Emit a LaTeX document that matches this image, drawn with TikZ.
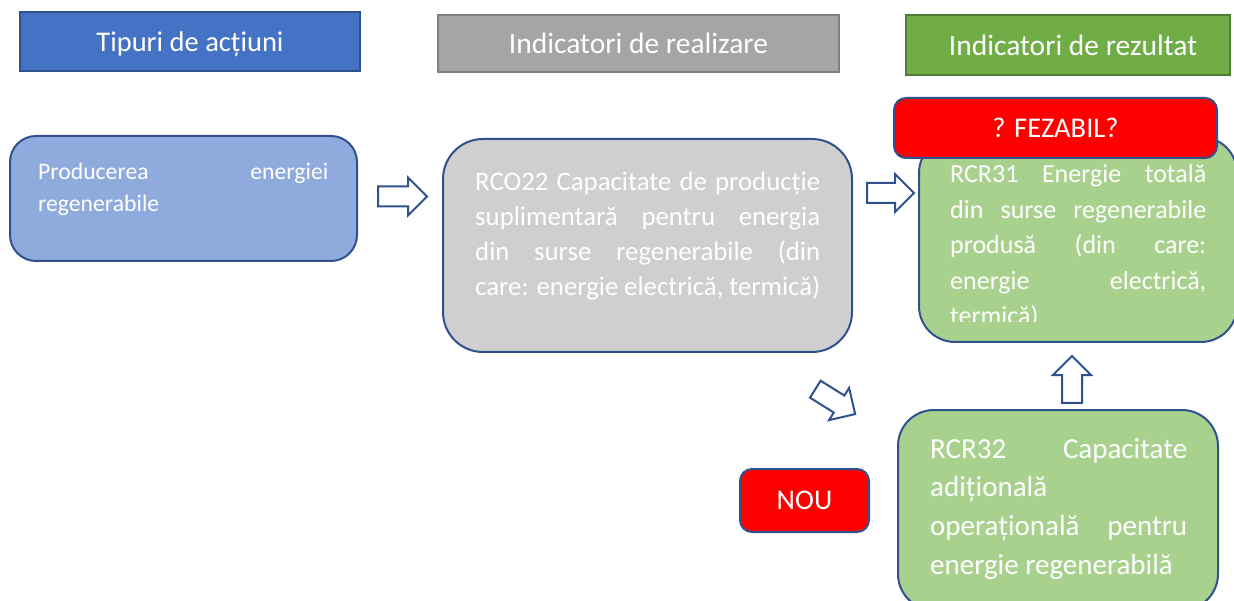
\documentclass[tikz,border=0pt]{standalone}
\usepackage{fontspec}
\setmainfont{Carlito}
\usetikzlibrary{shapes.arrows}

\definecolor{edgeblue}{HTML}{2F528F}
\definecolor{hdrblue}{HTML}{4472C4}
\definecolor{hdrgray}{HTML}{A5A5A5}
\definecolor{edgegray}{HTML}{7F7F7F}
\definecolor{hdrgreen}{HTML}{70AD47}
\definecolor{edgegreen}{HTML}{507E32}
\definecolor{actblue}{HTML}{8FAADC}
\definecolor{outgray}{HTML}{D0CECE}
\definecolor{resgreen}{HTML}{A9D18E}
\definecolor{alertred}{HTML}{FF0000}

\hbadness=10000
\tolerance=10000

\begin{document}
\begin{tikzpicture}[x=1pt,y=-1pt,
    hdr/.style={draw, line width=2.5pt, inner sep=0pt, text=white,
        font=\fontsize{29.5}{34}\selectfont},
    ibox/.style={draw=edgeblue, line width=2pt, rounded corners=#1},
    ibox/.default=30pt,
    boxtext/.style={inner sep=0pt, anchor=north west, align=justify, text=white},
    redbox/.style={draw=edgeblue, line width=2pt, fill=alertred, rounded corners=12pt,
        text=white, font=\fontsize{28.5}{34}\selectfont},
    blockarr/.style={single arrow, draw=edgeblue, line width=2pt, fill=white,
        inner xsep=0pt, inner ysep=9pt, minimum height=47pt,
        single arrow head extend=9pt, single arrow head indent=0pt}]
    \useasboundingbox (0,0) rectangle (1234,601);

    % column headers
    \node[hdr, draw=edgeblue, fill=hdrblue, minimum width=340pt, minimum height=59pt,
        font=\fontsize{28.5}{34}\selectfont, text depth=-3pt]
        (hdract) at (190,41.5) {Tipuri de acțiuni};
    \node[hdr, draw=edgegray, fill=hdrgray, minimum width=401pt, minimum height=57pt]
        (hdrout) at (638.5,43.5) {Indicatori de realizare};
    \node[hdr, draw=edgegreen, fill=hdrgreen, minimum width=324pt, minimum height=60pt]
        (hdrres) at (1068,45) {\hspace*{10pt}Indicatori de rezultat};

    % action
    \node[ibox=26pt, fill=actblue, minimum width=347pt, minimum height=125pt]
        (prod) at (183.5,198.5) {};
    \node[boxtext, text width=290pt, font=\fontsize{23.7}{32}\selectfont]
        (prodtxt) at (38,162.5) {Producerea energiei\linebreak regenerabile};

    % output indicator
    \node[ibox=40pt, fill=outgray, minimum width=409pt, minimum height=213pt]
        (rco) at (647.5,245.5) {};
    \node[boxtext, text width=345pt, font=\fontsize{26.8}{35}\selectfont]
        (rcotxt) at (475,172) {RCO22 Capacitate de producție\linebreak
        suplimentară pentru energia\linebreak din surse regenerabile (din\linebreak
        care: energie electrică, termică)};

    % result indicators
    \node[ibox=36pt, fill=resgreen, minimum width=318pt, minimum height=205pt]
        (rcrtot) at (1078,239.5) {};
    \begin{scope}
        \clip (919,137) rectangle (1240,322);
        \node[boxtext, text width=256pt, font=\fontsize{26}{35.5}\selectfont]
            (rcrtottxt) at (950,164.5) {RCR31 Energie totală\linebreak
            din surse regenerabile\linebreak produsă (din care:\linebreak
            energie electrică,\linebreak termică)};
    \end{scope}
    \node[redbox, minimum width=323pt, minimum height=60pt] (fezabil) at (1055.5,128) {? FEZABIL?};

    \node[ibox=36pt, fill=resgreen, minimum width=320pt, minimum height=200pt]
        (rcrcap) at (1058,510) {};
    \node[boxtext, text width=257pt, font=\fontsize{29}{38.7}\selectfont]
        (rcrcaptxt) at (930,438) {RCR32 Capacitate\linebreak adițională\newline
        operațională pentru\linebreak energie regenerabilă};

    \node[redbox, minimum width=129pt, minimum height=63pt] (nou) at (804.5,500.5) {NOU};

    % block arrows
    \node[blockarr, minimum height=49pt] (arr1) at (397.5,196.5) {};
    \node[blockarr] (arr2) at (885.5,193) {};
    \node[blockarr, rotate=-32] (arr3) at (831,399) {};
    \node[blockarr, rotate=90] (arr4) at (1072,384.5) {};
\end{tikzpicture}
\end{document}
